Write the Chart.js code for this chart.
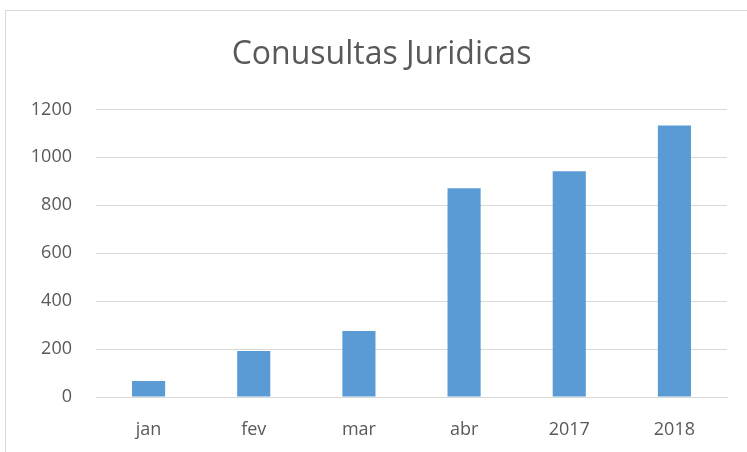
<!DOCTYPE html>
<html>
<head>
<meta charset="utf-8">
<script src="https://cdn.jsdelivr.net/npm/chart.js@4"></script>
<style>
  html, body { margin: 0; padding: 0; background: #fff; }
  #wrap { position: relative; width: 747px; height: 452px; overflow: hidden; }
  #frame { position: absolute; left: 5px; top: 10px; width: 760px; height: 460px; border: 1px solid #d9d9d9; box-sizing: border-box; }
  canvas { position: absolute; left: 0; top: 0; }
</style>
</head>
<body>
<div id="wrap">
  <div id="frame"></div>
  <canvas id="chart" width="747" height="452"></canvas>
</div>
<script>
const categories = ["jan", "fev", "mar", "abr", "2017", "2018"];
const consultas = [67, 192, 275, 871, 942, 1133];
const title_text = "Conusultas Juridicas";

const canvas = document.getElementById("chart");

// excel centres the title on the whole frame, not the plot, so nudge it right
const shift_title = {
  id: "shift_title",
  afterLayout(chart) {
    chart.titleBlock.left += 36;
  },
};

const chart = new Chart(canvas, {
  type: "bar",
  data: {
    labels: categories,
    datasets: [
      {
        label: "Consultas",
        data: consultas,
        backgroundColor: "#5b9bd5",
        categoryPercentage: 1,
        barPercentage: 0.315,
      },
    ],
  },
  options: {
    responsive: false,
    animation: false,
    layout: { padding: { left: 0, right: 20, top: 0, bottom: 11 } },
    plugins: {
      legend: { display: false },
      tooltip: { enabled: false },
      title: {
        display: true,
        text: title_text,
        color: "#595959",
        font: { family: "Open Sans", size: 32, weight: "normal" },
        padding: { top: 36, bottom: 35 },
      },
    },
    scales: {
      x: {
        grid: { display: false, drawTicks: false },
        border: { color: "#d9d9d9", width: 1 },
        ticks: {
          color: "#595959",
          font: { family: "Open Sans", size: 18 },
          padding: 22,
        },
        afterFit: (scale) => { scale.height = 44; },
      },
      y: {
        min: 0,
        max: 1200,
        grid: { color: "#d9d9d9", drawTicks: false },
        border: { display: false },
        ticks: {
          stepSize: 200,
          color: "#595959",
          font: { family: "Open Sans", size: 18 },
          padding: 24,
          callback: (v) => String(v),
        },
        afterFit: (scale) => { scale.width = 96; },
      },
    },
  },
  plugins: [shift_title],
});
</script>
</body>
</html>
